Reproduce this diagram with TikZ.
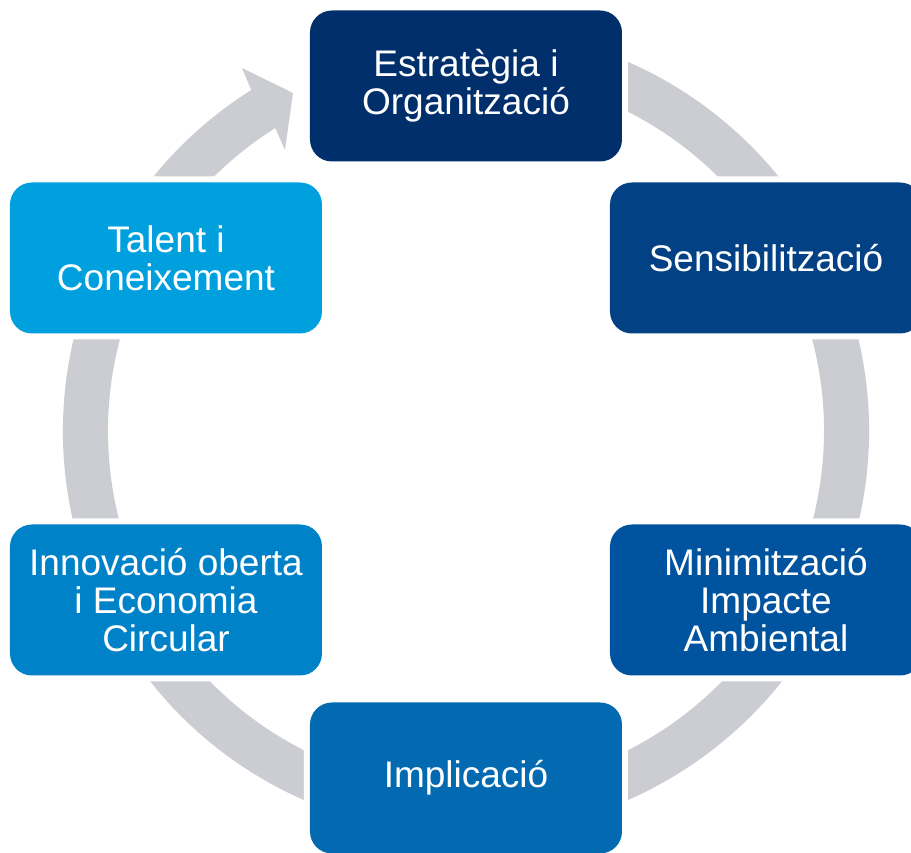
\documentclass[tikz,border=0pt]{standalone}
\usepackage{fontspec}
\setmainfont{Liberation Sans}
\definecolor{ringgray}{RGB}{203,205,211}
\definecolor{cA}{RGB}{0,47,108}
\definecolor{cB}{RGB}{2,65,132}
\definecolor{cC}{RGB}{0,84,159}
\definecolor{cD}{RGB}{3,106,178}
\definecolor{cE}{RGB}{0,130,200}
\definecolor{cF}{RGB}{0,160,223}
\tikzset{
  stagebox/.style={rounded corners=22pt, minimum width=312pt, minimum height=151pt,
    inner sep=0pt, text=white, align=center,
    font=\fontsize{37}{37.8}\selectfont,
    preaction={draw=white, line width=12pt}},
}
\begin{document}
\begin{tikzpicture}[x=1pt,y=1pt]
\useasboundingbox (-466,-422) rectangle (445,431);
\clip (-466,-422) rectangle (445,431);
% ring with arrowhead
\fill[ringgray] (75:403) arc[start angle=75, end angle=-237.8, radius=403]
  -- (-224,363) -- (-173,338) -- (-181,281)
  -- (-237.8:358) arc[start angle=-237.8, end angle=75, radius=358] -- cycle;
% boxes
\node[stagebox, fill=cA] (estr) at (0,345) {Estratègia i\\Organització};
\node[stagebox, fill=cB] (sens) at (300,173) {Sensibilització};
\node[stagebox, fill=cC] (mini) at (300,-169) {Minimització\\Impacte\\Ambiental};
\node[stagebox, fill=cD] (impl) at (0,-347) {Implicació};
\node[stagebox, fill=cE] (inno) at (-300,-169) {Innovació oberta\\i Economia\\Circular};
\node[stagebox, fill=cF] (tale) at (-300,173) {Talent i\\Coneixement};
\end{tikzpicture}
\end{document}
